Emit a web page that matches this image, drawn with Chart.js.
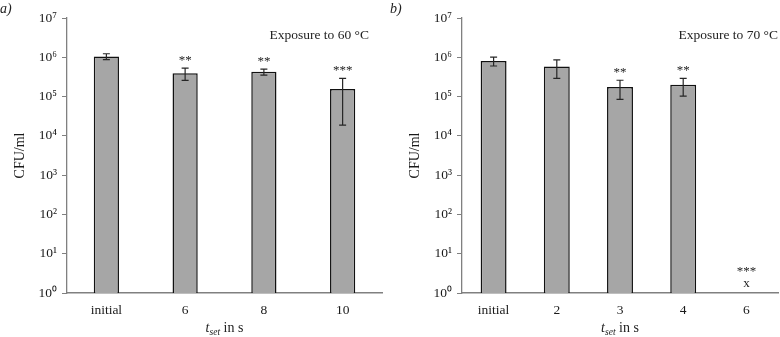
<!DOCTYPE html>
<html>
<head>
<meta charset="utf-8">
<script src="https://cdn.jsdelivr.net/npm/chart.js@4/dist/chart.umd.min.js"></script>
<style>
  html, body { margin: 0; padding: 0; background: #fff; }
  #wrap { position: relative; width: 780px; height: 337px; overflow: hidden; }
  canvas { position: absolute; top: 0; }
</style>
</head>
<body>
<div id="wrap">
  <canvas id="ca" width="390" height="337" style="left:0"></canvas>
  <canvas id="cb" width="390" height="337" style="left:390px"></canvas>
</div>
<script>
// ---- data ----
const yTickValues = [1, 10, 100, 1000, 10000, 100000, 1000000, 10000000];
const superDigits = ['⁰','¹','²','³','⁴','⁵','⁶','⁷'];

const catsA   = ['initial', '6', '8', '10'];
const meanA   = [1.05e6, 3.95e5, 4.27e5, 1.57e5];
const errHiA  = [1.23e6, 5.3e5, 5.0e5, 2.9e5];
const errLoA  = [8.7e5, 2.57e5, 3.5e5, 1.87e4];
const sigA    = ['', '**', '**', '***'];
const markA   = ['', '', '', ''];

const catsB   = ['initial', '2', '3', '4', '6'];
const meanB   = [8.1e5, 5.8e5, 1.74e5, 2.0e5, null];
const errHiB  = [1.01e6, 8.6e5, 2.6e5, 2.9e5, null];
const errLoB  = [6.0e5, 2.9e5, 8.5e4, 1.03e5, null];
const sigB    = ['', '', '**', '**', '***'];
const markB   = ['', '', '', '', 'x'];

const SERIF = '"Liberation Serif", "Times New Roman", serif';
const AXIS_GRAY = '#808080';

function makeChart(id, cfg) {
  const extras = {
    id: 'extras',
    afterDatasetsDraw(chart) {
      const ctx = chart.ctx;
      const x = chart.scales.x, y = chart.scales.y;
      ctx.save();
      // error bars
      ctx.strokeStyle = '#262626';
      ctx.lineWidth = 1.2;
      cfg.hi.forEach((hi, i) => {
        if (hi == null) return;
        const cx = x.getPixelForValue(i);
        const yh = y.getPixelForValue(hi), yl = y.getPixelForValue(cfg.lo[i]);
        ctx.beginPath();
        ctx.moveTo(cx, yh); ctx.lineTo(cx, yl);
        ctx.moveTo(cx - 3.5, yh); ctx.lineTo(cx + 3.5, yh);
        ctx.moveTo(cx - 3.5, yl); ctx.lineTo(cx + 3.5, yl);
        ctx.stroke();
      });
      // significance marks
      ctx.fillStyle = '#222';
      ctx.textAlign = 'center';
      ctx.textBaseline = 'middle';
      ctx.font = '13px ' + SERIF;
      cfg.sig.forEach((s, i) => {
        if (!s) return;
        const cx = x.getPixelForValue(i);
        let yy;
        if (cfg.hi[i] != null) yy = y.getPixelForValue(cfg.hi[i]) - 8;
        else yy = y.getPixelForValue(1) - 21;
        ctx.fillText(s, cx, yy);
      });
      cfg.mark.forEach((m, i) => {
        if (!m) return;
        const cx = x.getPixelForValue(i);
        ctx.fillText(m, cx, y.getPixelForValue(1) - 9);
      });
      // panel letter
      ctx.textAlign = 'left';
      ctx.font = 'italic 14px ' + SERIF;
      ctx.fillText(cfg.letter, cfg.letterX, 9);
      // exposure label
      ctx.textAlign = 'right';
      ctx.font = '13.5px ' + SERIF;
      ctx.fillText(cfg.note, cfg.noteX, 35);
      // x axis title: t_set in s
      const cxm = (chart.chartArea.left + chart.chartArea.right) / 2;
      const by = 332;
      ctx.textBaseline = 'alphabetic';
      ctx.textAlign = 'left';
      ctx.font = 'italic 14px ' + SERIF;
      const wT = ctx.measureText('t').width;
      ctx.font = 'italic 9.5px ' + SERIF;
      const wS = ctx.measureText('set').width;
      ctx.font = '14px ' + SERIF;
      const wR = ctx.measureText(' in s').width;
      let sx = cxm - (wT + wS + wR) / 2;
      ctx.font = 'italic 14px ' + SERIF;
      ctx.fillText('t', sx, by); sx += wT;
      ctx.font = 'italic 9.5px ' + SERIF;
      ctx.fillText('set', sx, by + 3); sx += wS;
      ctx.font = '14px ' + SERIF;
      ctx.fillText(' in s', sx, by);
      ctx.restore();
    }
  };

  return new Chart(document.getElementById(id), {
    type: 'bar',
    data: {
      labels: cfg.cats,
      datasets: [{
        data: cfg.mean,
        backgroundColor: '#a6a6a6',
        borderColor: '#111111',
        borderWidth: 1.5,
        barPercentage: cfg.barPct,
        categoryPercentage: 1.0
      }]
    },
    options: {
      responsive: false,
      animation: false,
      events: [],
      layout: { padding: { left: 0, right: cfg.padRight, top: 18, bottom: 0 } },
      plugins: { legend: { display: false }, tooltip: { enabled: false } },
      scales: {
        x: {
          grid: { display: false, drawTicks: false },
          border: { display: true, color: AXIS_GRAY, width: 1.6 },
          ticks: { color: '#1a1a1a', font: { family: SERIF, size: 13.5 }, padding: 9, maxRotation: 0 },
          afterFit: s => { s.height = 44; }
        },
        y: {
          type: 'logarithmic',
          min: 1, max: 1e7,
          afterBuildTicks: s => { s.ticks = yTickValues.map(v => ({ value: v })); },
          grid: { display: true, drawOnChartArea: false, drawTicks: true, tickLength: 5, color: AXIS_GRAY, lineWidth: 1 },
          border: { display: true, color: AXIS_GRAY, width: 1.3 },
          ticks: {
            color: '#1a1a1a', padding: 5,
            font: { family: SERIF, size: 13.5 },
            callback: v => '10' + superDigits[Math.round(Math.log10(v))]
          },
          title: { display: true, text: 'CFU/ml', color: '#1a1a1a', font: { family: SERIF, size: 14 }, padding: { top: cfg.titlePad, bottom: 0 } },
          afterFit: s => { s.width = cfg.yWidth; }
        }
      }
    },
    plugins: [extras]
  });
}

makeChart('ca', { cats: catsA, mean: meanA, hi: errHiA, lo: errLoA, sig: sigA, mark: markA,
  barPct: 0.32, padRight: 8, yWidth: 67, titlePad: 12, letter: 'a)', letterX: 0, note: 'Exposure to 60 °C', noteX: 369 });
makeChart('cb', { cats: catsB, mean: meanB, hi: errHiB, lo: errLoB, sig: sigB, mark: markB,
  barPct: 0.41, padRight: 2, yWidth: 72, titlePad: 17, letter: 'b)', letterX: 0, note: 'Exposure to 70 °C', noteX: 388 });
</script>
</body>
</html>
